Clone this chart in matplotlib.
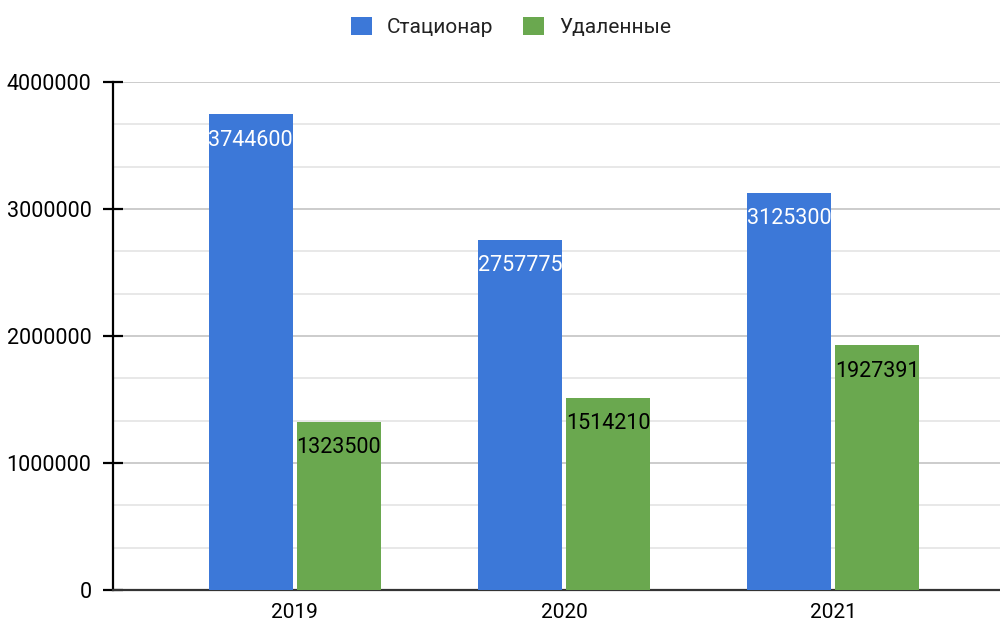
import numpy as np
import matplotlib.pyplot as plt
from matplotlib.ticker import MultipleLocator, FuncFormatter

plt.rcParams['font.family'] = ['Roboto', 'DejaVu Sans']

years = ['2019', '2020', '2021']
stationary = [3744600, 2757775, 3125300]
remote = [1323500, 1514210, 1927391]
series_names = ['Стационар', 'Удаленные']

blue = '#3c78d8'
green = '#6aa84f'

fig = plt.figure(figsize=(10, 6.26), dpi=100)
ax = fig.add_axes([0.113, 0.0575, 0.887, 0.8115])

x = np.arange(len(years))
w = 0.312
gap = 0.008
b1 = ax.bar(x - w / 2 - gap, stationary, w, color=blue, label=series_names[0], zorder=3)
b2 = ax.bar(x + w / 2 + gap, remote, w, color=green, label=series_names[1], zorder=3)

# data labels inside the bar top
for bars, vals, col in [(b1, stationary, 'white'), (b2, remote, 'black')]:
    for rect, v in zip(bars, vals):
        ax.annotate(str(v), (rect.get_x() + rect.get_width() / 2, v),
                    xytext=(0, -11), textcoords='offset points',
                    ha='center', va='top', fontsize=15.5, color=col, zorder=4)

ax.set_xlim(-0.675, 2.62)
ax.set_ylim(0, 4000000)
ax.set_xticks(x)
ax.set_xticklabels(years)
ax.yaxis.set_major_locator(MultipleLocator(1000000))
ax.yaxis.set_minor_locator(MultipleLocator(1000000 / 3))
ax.yaxis.set_major_formatter(FuncFormatter(lambda v, p: f'{int(v)}'))

ax.grid(axis='y', which='major', color='#cccccc', linewidth=1.4, zorder=0)
ax.grid(axis='y', which='minor', color='#e8e8e8', linewidth=1.4, zorder=0)
ax.set_axisbelow(True)

for s in ['top', 'right']:
    ax.spines[s].set_visible(False)
ax.spines['left'].set_linewidth(1.6)
ax.spines['bottom'].set_linewidth(1.6)
ax.spines['left'].set_color('black')
ax.spines['bottom'].set_color('#333333')

ax.tick_params(axis='y', which='major', direction='inout', length=15, width=1.6,
               labelsize=15.5, pad=8)
ax.tick_params(axis='y', which='minor', length=0)
ax.tick_params(axis='x', length=0, labelsize=15, pad=9)

fig.legend(handles=[b1, b2], labels=series_names, loc='center', ncol=2,
           bbox_to_anchor=(0.511, 0.957), frameon=False, fontsize=15,
           labelcolor='#222222',
           handlelength=1.0, handleheight=1.0, handletextpad=0.75, columnspacing=1.4)

fig.savefig('out.png', dpi=100)
